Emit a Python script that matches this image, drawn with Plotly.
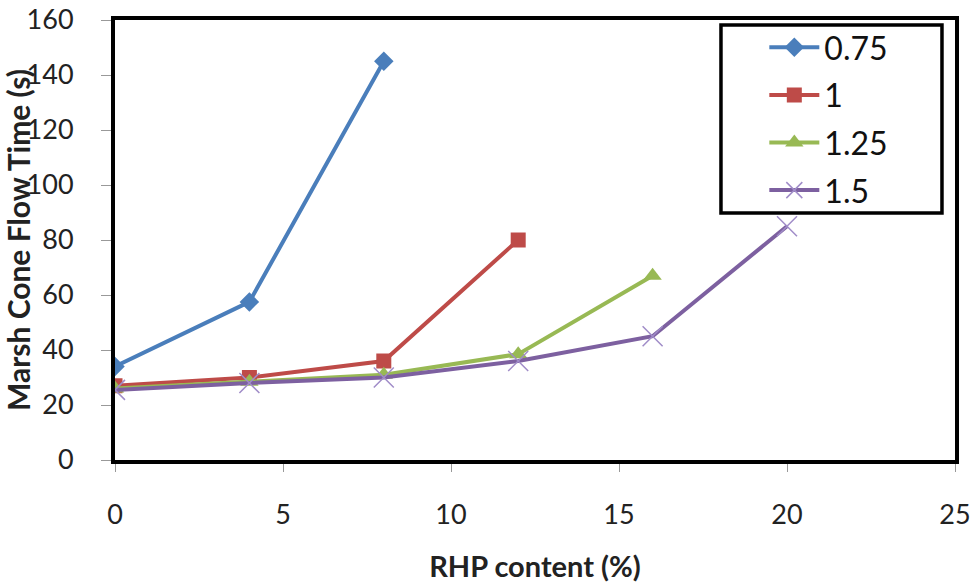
import plotly.graph_objects as go

rhp = [0, 4, 8, 12, 16, 20]
names = ["0.75", "1", "1.25", "1.5"]
s075 = [34, 57.5, 145]
s100 = [27, 30, 36, 80]
s125 = [26, 28.5, 31, 38.5, 67]
s150 = [25.5, 28, 30, 36, 45, 85]
x_ticks = [0, 5, 10, 15, 20, 25]
y_ticks = [0, 20, 40, 60, 80, 100, 120, 140, 160]

series = [s075, s100, s125, s150]
colors = ["#4A7EBB", "#BE4B48", "#98B954", "#7D60A0"]
symbols = ["diamond", "square", "triangle-up", "x-thin"]
sizes = [15, 15, 16, 20]

fig = go.Figure()
for i, (nm, ys) in enumerate(zip(names, series)):
    mk = dict(symbol=symbols[i], size=sizes[i], color=colors[i])
    if symbols[i] == "x-thin":
        mk["line"] = dict(color="#A08CC8", width=1.5)
    fig.add_trace(go.Scatter(
        x=rhp[:len(ys)], y=ys, name=nm, mode="lines+markers",
        line=dict(color=colors[i], width=4), marker=mk,
        legendgroup=nm,
    ))

# legend frame
fig.add_shape(type="rect", xref="paper", yref="paper",
              x0=0.7214, x1=0.9845, y0=0.5614, y1=0.9886,
              line=dict(color="black", width=3.5), fillcolor="white", layer="above")

font_fam = "Lato, 'Open Sans', sans-serif"
fig.update_layout(
    width=971, height=588,
    margin=dict(l=115, r=16, t=20, b=128),
    paper_bgcolor="white", plot_bgcolor="white",
    font=dict(family=font_fam, color="#222"),
    showlegend=True,
    legend=dict(
        x=0.773, y=1.0, xanchor="left", yanchor="top",
        bgcolor="rgba(255,255,255,0)", borderwidth=0,
        font=dict(size=32, family=font_fam, color="#111"),
        tracegroupgap=3, itemwidth=50,
    ),
    xaxis=dict(
        range=[0, 25], tickvals=x_ticks, showgrid=False, zeroline=False,
        showline=True, linecolor="black", linewidth=4, mirror=True,
        ticks="outside", ticklen=8, tickcolor="#999", tickwidth=1,
        tickfont=dict(size=27), ticklabelstandoff=20, automargin=False,
        ticklabeloverflow="allow",
        title=dict(text="<b>RHP content (%)</b>", font=dict(size=29), standoff=28),
    ),
    yaxis=dict(
        range=[0, 160], tickvals=y_ticks, showgrid=False, zeroline=False,
        showline=True, linecolor="black", linewidth=4, mirror=True,
        ticks="outside", ticklen=10, tickcolor="#999", tickwidth=1,
        tickfont=dict(size=27), ticklabelstandoff=22, automargin=False,
        ticklabeloverflow="allow",
        title=dict(text="<b>Marsh Cone Flow Time (s)</b>", font=dict(size=30), standoff=2),
    ),
)

fig.write_html("out.html", config={"displayModeBar": False},
               post_script="document.body.style.margin='0';")
